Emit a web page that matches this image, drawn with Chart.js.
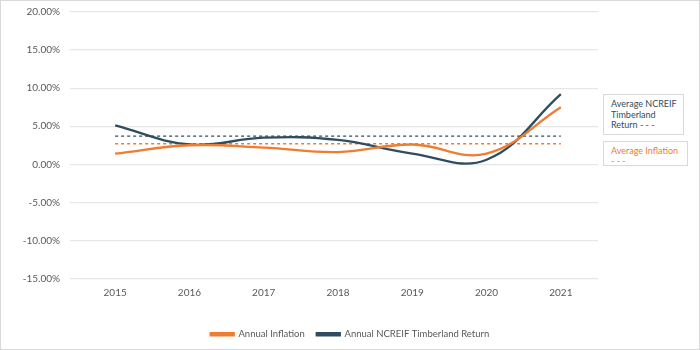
<!DOCTYPE html>
<html>
<head>
<meta charset="utf-8">
<script src="https://cdn.jsdelivr.net/npm/chart.js@4"></script>
<style>
    body { margin: 0; background: #fff; }
    #wrap { position: relative; width: 700px; height: 350px; box-sizing: border-box; border: 1px solid #d9d9d9; }
    .note { position: absolute; font-family: Lato, sans-serif; font-size: 9px; line-height: 10.5px; border: 1px solid #d9d9d9; background: #fff; padding: 4px 0 0 7px; box-sizing: border-box; white-space: nowrap; }
</style>
</head>
<body>
<div id="wrap">
    <canvas id="chart" width="698" height="348"></canvas>
    <div class="note" style="left:602px; top:93px; width:81px; height:41px; color:#2e4d61;">Average NCREIF<br>Timberland<br>Return - - -</div>
    <div class="note" style="left:602px; top:140px; width:85px; height:25px; color:#ed7d31; padding-top:3.5px;">Average Inflation<br>- - -</div>
</div>
<script>
// chart data
const years = ["2015", "2016", "2017", "2018", "2019", "2020", "2021"];
const annualInflation = [1.4, 2.5, 2.2, 1.6, 2.6, 1.4, 7.5];
const ncreifReturn = [5.1, 2.6, 3.5, 3.2, 1.4, 0.6, 9.2];
const avgNcreif = 3.7;
const avgInflation = 2.7;

const orange = "#ed7d31";
const navy = "#2e4d61";
const textGray = "#595959";

const ctx = document.getElementById("chart").getContext("2d");
new Chart(ctx, {
    type: 'line',
    data: {
        labels: years,
        datasets: [{
            label: "Annual Inflation",
            data: annualInflation,
            borderColor: orange,
            backgroundColor: orange,
            borderWidth: 2.3,
            pointRadius: 0,
            tension: 0.4
        }, {
            label: "Annual NCREIF Timberland Return",
            data: ncreifReturn,
            borderColor: navy,
            backgroundColor: navy,
            borderWidth: 2.3,
            pointRadius: 0,
            tension: 0.4
        }, {
            label: "avgNcreif",
            data: years.map(() => avgNcreif),
            borderColor: navy,
            borderWidth: 1.3,
            borderDash: [3, 3],
            pointRadius: 0
        }, {
            label: "avgInflation",
            data: years.map(() => avgInflation),
            borderColor: orange,
            borderWidth: 1.3,
            borderDash: [3, 3],
            pointRadius: 0
        }]
    },
    options: {
        responsive: false,
        animation: false,
        layout: { padding: { top: 11, right: 0, left: 0, bottom: 0 } },
        plugins: {
            tooltip: { enabled: false },
            legend: {
                position: 'bottom',
                labels: {
                    filter: item => item.datasetIndex < 2,
                    boxWidth: 23,
                    boxHeight: 2,
                    padding: 12,
                    color: textGray,
                    font: { family: "Lato", size: 9.5 }
                }
            }
        },
        scales: {
            x: {
                offset: true,
                afterFit: scale => { scale.height = 39; },
                grid: { display: false, drawTicks: false },
                border: { display: false },
                ticks: { color: textGray, font: { family: "Lato", size: 10 }, padding: 8 }
            },
            y: {
                min: -15,
                max: 20,
                afterFit: scale => {
                    scale.width = 77;
                    scale.paddingTop = 0;
                    scale.paddingBottom = 0;
                },
                grid: { color: "#e6e6e6", lineWidth: 1.2 },
                border: { display: false },
                ticks: {
                    stepSize: 5,
                    padding: 10,
                    color: textGray,
                    font: { family: "Lato", size: 10 },
                    callback: v => v.toFixed(2) + "%"
                }
            },
            // empty right axis only to reserve space for the notes
            yRight: {
                position: 'right',
                min: -15,
                max: 20,
                afterFit: scale => {
                    scale.width = 101;
                    scale.paddingTop = 0;
                    scale.paddingBottom = 0;
                },
                grid: { display: false },
                border: { display: false },
                ticks: { display: false }
            }
        }
    }
});
</script>
</body>
</html>
